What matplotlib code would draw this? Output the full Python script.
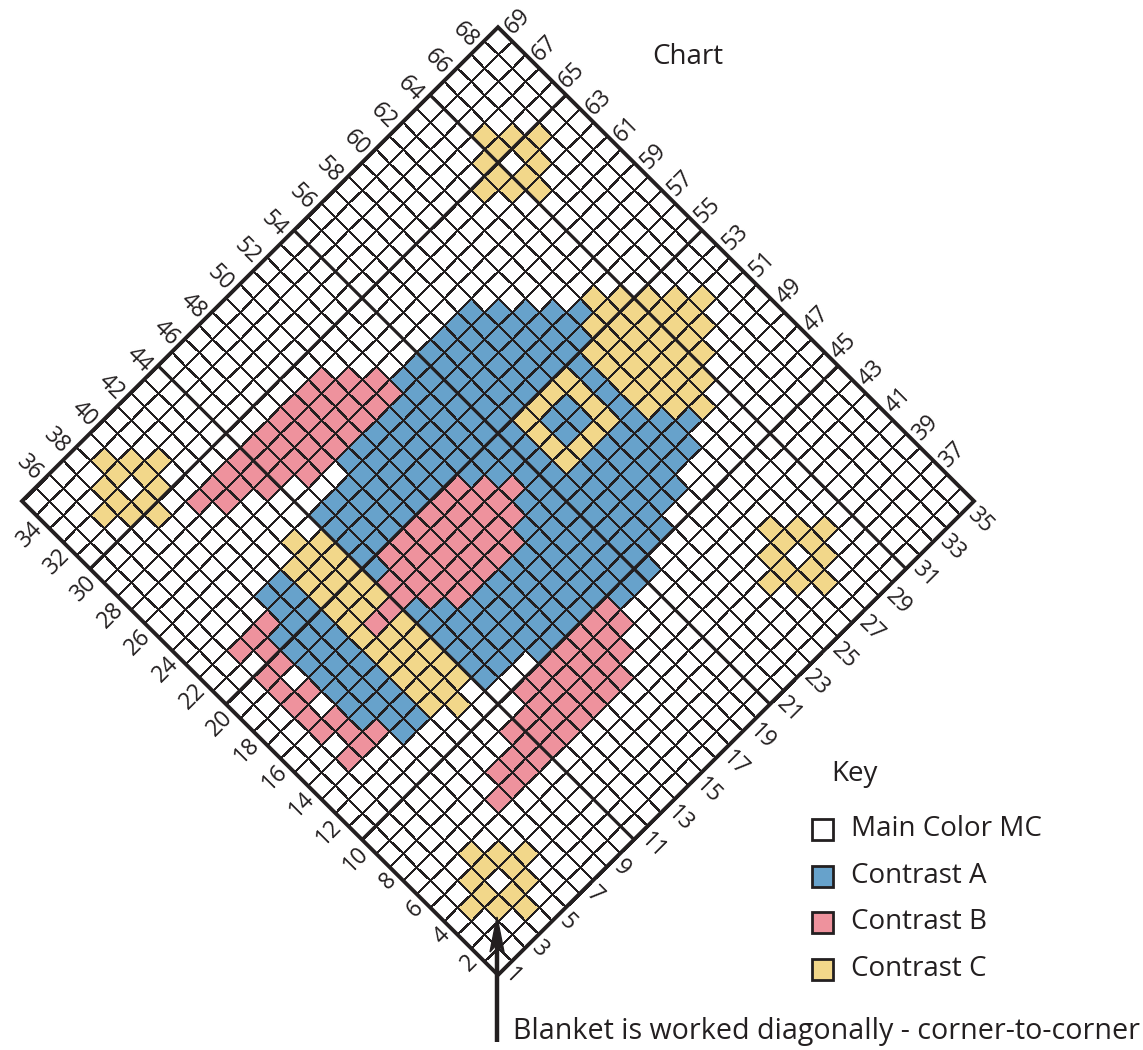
import numpy as np
import matplotlib
matplotlib.use("Agg")
import matplotlib.pyplot as plt
from matplotlib.colors import ListedColormap
from matplotlib.transforms import Affine2D
from matplotlib.patches import Rectangle, Polygon

N = 35
palette = ['#ffffff', '#67a2cb', '#ee929d', '#f2d78a']
codes = {'.': 0, 'A': 1, 'B': 2, 'C': 3}
key_labels = ['Main Color MC', 'Contrast A', 'Contrast B', 'Contrast C']
title = 'Chart'
key_title = 'Key'
caption = 'Blanket is worked diagonally - corner-to-corner'
ink = '#231f20'

# chart_rows[b] = cells a = 0..34 ('.' MC, 'A', 'B', 'C'); b = 0 is the lower-right edge
chart_rows = [
    "..... ..... ..... ..... ..... ..... .....",  # b=0
    "...C. ..... ..... ..... ..... ..... .....",  # b=1
    "..CCC ..... ..... ..... ..... .C... .....",  # b=2
    ".CC.C C.... ..... ..... ..... CCC.. .....",  # b=3
    "..CCC ..... ..... ..... ....C C.CC. .....",  # b=4
    "...C. ..... ..... ..... ..... CCC.. .....",  # b=5
    "..... .BBBB BBBBB B.... ..... .C... .....",  # b=6
    "..... ..BBB BBBBB BB... ..... ..... .....",  # b=7
    "..... ....B BBBBB BBB.. ..... ..... .....",  # b=8
    "..... ..... .BBBB BBBAA A.... ..... .....",  # b=9
    "..... ..... ...AA AAAAA AAA.. ..... .....",  # b=10
    "..... ...C. AAAAA AAAAA AAAAA ..... .....",  # b=11
    "..... AACCC AAAAA AAAAA AAAAA AA... .....",  # b=12
    "..BBB AACCC AAAAA AAAAA AAAAA AAAC. .....",  # b=13
    "...BA AACCC AAAAA AAAAA AAAAA AACCC .....",  # b=14
    "..BBA AACCC AABBB BBAAA AAAAA ACCCC C....",  # b=15
    "..B.A AACCC ABBBB BBBAA ACCCC ACCCC CC...",  # b=16
    "..BBA AACBB BBBBB BBBBA ACAAC ACCCC CCC..",  # b=17
    "..B.A AACCC BBBBB BBBAA ACAAC ACCCC CC...",  # b=18
    "..BBA AACCC ABBBB BBAAA ACCCC ACCCC C....",  # b=19
    "...BA AACCC AAAAA AAAAA AAAAA AACCC .....",  # b=20
    "..BBB AACCC AAAAA AAAAA AAAAA AAAC. .....",  # b=21
    "..... AACCC AAAAA AAAAA AAAAA AA... .....",  # b=22
    "..... ...C. AAAAA AAAAA AAAAA A.... .....",  # b=23
    "..... ..... ...AA AAAAA AAAAA ..... .....",  # b=24
    "..... ..... .BBBB BBBAA AAAA. ..... .....",  # b=25
    "..... ....B BBBBB BBB.. ..... ..... .....",  # b=26
    "..... ..BBB BBBBB BB... ..... ..... C....",  # b=27
    "..... .BBBB BBBBB B.... ..... ....C CC...",  # b=28
    "....C ..... ..... ..... ..... ...CC .CC..",  # b=29
    "...CC C.... ..... ..... ..... ....C CC...",  # b=30
    "..CC. CC... ..... ..... ..... ..... C....",  # b=31
    "...CC C.... ..... ..... ..... ..... .....",  # b=32
    "....C ..... ..... ..... ..... ..... .....",  # b=33
    "..... ..... ..... ..... ..... ..... .....",  # b=34
]
rows = [r.replace(' ', '') for r in chart_rows]
for i, r in enumerate(rows):
    assert len(r) == N, (i, len(r))
grid = np.array([[codes[ch] for ch in r] for r in rows])  # [b, a]

plt.rcParams['font.family'] = ['Open Sans', 'DejaVu Sans']
fig = plt.figure(figsize=(11.43, 10.5), dpi=100)
ax = fig.add_axes([0, 0, 1, 1])
ab2px = Affine2D.from_values(13.6, -13.54, -13.6, -13.54, 498, 975)
T = ab2px + ax.transData

cmap = ListedColormap(palette)
ax.pcolormesh(np.arange(N + 1), np.arange(N + 1), grid, cmap=cmap, vmin=-0.5, vmax=3.5,
              edgecolors=ink, linewidth=0.8, transform=T)
for k in (10, 20, 30):
    ax.plot([k, k], [0, N], color=ink, lw=2.3, transform=T, solid_capstyle='butt')
    ax.plot([0, N], [k, k], color=ink, lw=2.3, transform=T, solid_capstyle='butt')
ax.add_patch(Rectangle((0, 0), N, N, fill=False, ec=ink, lw=2.8, transform=T, joinstyle='miter'))

off = 5 / np.sqrt(2)
fs = 16.5
for r in range(1, 36, 2):
    x, y = ab2px.transform((r - 0.5, 0))
    ax.text(x + off, y + off, str(r), rotation=-45, ha='left', va='center', rotation_mode='anchor', fontsize=fs, color=ink)
for r in range(37, 70, 2):
    x, y = ab2px.transform((35, r - 34.5))
    ax.text(x + off, y - off, str(r), rotation=45, ha='left', va='center', rotation_mode='anchor', fontsize=fs, color=ink)
for r in range(2, 35, 2):
    x, y = ab2px.transform((0, r - 0.5))
    ax.text(x - off, y + off, str(r), rotation=45, ha='right', va='center', rotation_mode='anchor', fontsize=fs, color=ink)
for r in range(36, 69, 2):
    x, y = ab2px.transform((r - 34.5, 35))
    ax.text(x - off, y - off, str(r), rotation=-45, ha='right', va='center', rotation_mode='anchor', fontsize=fs, color=ink)

ax.text(652, 57, title, ha='left', va='center', fontsize=20, color=ink)
ax.text(831, 774, key_title, ha='left', va='center', fontsize=20, color=ink)
key_y = [829, 876, 922, 969]
for lab, col, yy in zip(key_labels, palette, key_y):
    ax.add_patch(Rectangle((812, yy - 10.5), 21, 21, fc=col, ec=ink, lw=2))
    ax.text(851, yy, lab, ha='left', va='center', fontsize=20, color=ink)

ax.plot([497, 497], [1042, 935], color=ink, lw=3.2, solid_capstyle='butt')
ax.add_patch(Polygon([(497, 917), (490, 952), (497, 944), (504, 952)], closed=True, fc=ink, ec=ink, lw=1))
ax.text(513, 1032, caption, ha='left', va='center', fontsize=20.6, color=ink)

ax.set_xlim(0, 1143)
ax.set_ylim(1050, 0)
ax.axis('off')
fig.savefig('out.png', dpi=100, facecolor='white')
